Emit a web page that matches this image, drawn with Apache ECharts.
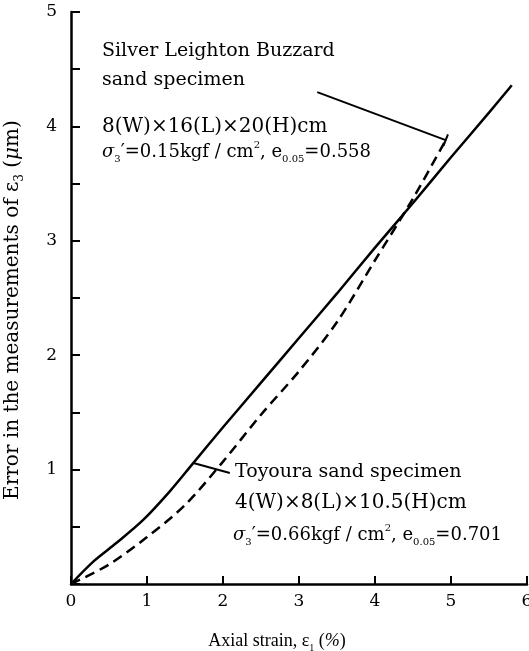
<!DOCTYPE html>
<html>
<head>
<meta charset="utf-8">
<script src="https://cdn.jsdelivr.net/npm/echarts@6/dist/echarts.min.js"></script>
<style>
  html, body { margin: 0; padding: 0; background: #fff; }
  #chart { width: 529px; height: 651px; }
</style>
</head>
<body>
<div id="chart"></div>
<script>
// Axial strain (%) for each curve
const toyouraStrain = [0, 0.3, 0.6, 0.95, 1.3, 1.6, 2.0, 2.5, 3.0, 3.5, 4.0, 4.5, 5.0, 5.5, 5.8];
// Error in the measurements of eps3 (um), Toyoura sand specimen (solid)
const toyouraError = [0, 0.2, 0.36, 0.56, 0.81, 1.05, 1.37, 1.76, 2.15, 2.54, 2.94, 3.33, 3.73, 4.12, 4.36];

const buzzardStrain = [0, 0.5, 1.0, 1.5, 2.0, 2.5, 3.0, 3.5, 4.0, 4.5, 4.93];
// Error in the measurements of eps3 (um), Silver Leighton Buzzard sand specimen (dashed)
const buzzardError = [0, 0.17, 0.41, 0.69, 1.07, 1.48, 1.86, 2.29, 2.83, 3.37, 3.88];

// Axis ticks
const xTicks = [0, 1, 2, 3, 4, 5, 6];
const yLabelled = [1, 2, 3, 4, 5];

// Where the callout leaders start (data space)
const buzzardLeaderStart = [3.24, 4.30];
const toyouraLeaderStart = [2.09, 0.97];
const toyouraLeaderTarget = 1.61; // strain at which the leader meets the solid curve

const FONT = 'DejaVu Serif';
const FONT_NARROW = 'Liberation Serif';

function pairs(xs, ys) { return xs.map((x, i) => [x, ys[i]]); }
function interp(xs, ys, x) {
  for (let i = 1; i < xs.length; i++) {
    if (x <= xs[i]) {
      const t = (x - xs[i - 1]) / (xs[i] - xs[i - 1]);
      return ys[i - 1] + t * (ys[i] - ys[i - 1]);
    }
  }
  return ys[ys.length - 1];
}

const buzzardEnd = [buzzardStrain[buzzardStrain.length - 1], buzzardError[buzzardError.length - 1]];
const toyouraHit = [toyouraLeaderTarget, interp(toyouraStrain, toyouraError, toyouraLeaderTarget)];

const rich = (size, family) => {
  const f = family || FONT;
  return {
    n: { fontFamily: f, fontSize: size, lineHeight: size + 6, verticalAlign: 'middle', color: '#000' },
    i: { fontFamily: f, fontSize: size, fontStyle: 'italic', lineHeight: size + 6, verticalAlign: 'middle', color: '#000' },
    sub: { fontFamily: f, fontSize: Math.round(size * 0.58), lineHeight: Math.round(size * 0.62), verticalAlign: 'bottom', color: '#000' },
    sup: { fontFamily: f, fontSize: Math.round(size * 0.58), lineHeight: Math.round(size * 0.62), verticalAlign: 'top', color: '#000' }
  };
};

function label(x, y, text, size) {
  return {
    type: 'text', left: x, top: y, silent: true,
    style: { text: text, rich: rich(size), font: size + 'px ' + FONT, fill: '#000', verticalAlign: 'middle' }
  };
}

const chart = echarts.init(document.getElementById('chart'), null, { renderer: 'canvas' });

const axisLineStyle = { color: '#000', width: 2.5 };

chart.setOption({
  animation: false,
  backgroundColor: '#fff',
  grid: { left: 71, right: 2, top: 12, bottom: 67, containLabel: false, outerBoundsMode: 'none' },
  xAxis: {
    type: 'value', min: xTicks[0], max: xTicks[xTicks.length - 1], interval: 1,
    axisLine: { lineStyle: axisLineStyle },
    axisTick: { inside: true, length: 8, lineStyle: { color: '#000', width: 2 } },
    splitLine: { show: false },
    axisLabel: { margin: 9, color: '#000', fontFamily: FONT, fontSize: 17,
      formatter: v => xTicks.includes(v) ? String(v) : '' },
    name: '{n|Axial strain, ε}{sub|1}{n| (}{i|%}{n|)}',
    nameLocation: 'middle', nameGap: 45,
    nameTextStyle: { rich: rich(18, FONT_NARROW), padding: [0, 44, 0, 0] }
  },
  yAxis: {
    type: 'value', min: 0, max: 5, interval: 0.5,
    axisLine: { lineStyle: axisLineStyle },
    axisTick: { inside: true, length: 9, lineStyle: { color: '#000', width: 2 } },
    splitLine: { show: false },
    axisLabel: { margin: 14, color: '#000', fontFamily: FONT, fontSize: 17,
      formatter: v => yLabelled.includes(v) ? String(v) : '' },
    name: '{n|Error in the measurements of ε}{sub|3}{n| (}{i|μ}{n|m)}',
    nameLocation: 'middle', nameGap: 45,
    nameTextStyle: { rich: rich(20), padding: [0, 24, 0, 0] }
  },
  series: [
    {
      name: 'Toyoura sand specimen', type: 'line', smooth: 0.3,
      showSymbol: false, silent: true,
      data: pairs(toyouraStrain, toyouraError),
      lineStyle: { color: '#000', width: 2.5, type: 'solid' },
      markLine: {
        silent: true, symbol: ['none', 'none'], label: { show: false },
        lineStyle: { color: '#000', width: 2, type: 'solid' },
        data: [[{ coord: toyouraLeaderStart }, { coord: toyouraHit }]]
      }
    },
    {
      name: 'Silver Leighton Buzzard sand specimen', type: 'line', smooth: 0.3,
      showSymbol: false, silent: true,
      data: pairs(buzzardStrain, buzzardError),
      lineStyle: { color: '#000', width: 2.5, type: [10, 6] },
      markLine: {
        silent: true, symbol: ['none', 'none'], label: { show: false },
        lineStyle: { color: '#000', width: 2, type: 'solid' },
        data: [
          [{ coord: buzzardLeaderStart }, { coord: buzzardEnd }],
          [{ coord: [buzzardEnd[0] + 0.03, buzzardEnd[1] + 0.05] }, { coord: [buzzardEnd[0] - 0.03, buzzardEnd[1] - 0.05] }]
        ]
      }
    }
  ],
  graphic: [
    label(102, 42, '{n|Silver Leighton Buzzard}', 19),
    label(102, 71, '{n|sand specimen}', 19),
    label(102, 117, '{n|8(W)×16(L)×20(H)cm}', 20),
    label(102, 140, '{i|σ}{sub|3}{n|′=0.15kgf / cm}{sup|2}{n|, e}{sub|0.05}{n|=0.558}', 18),
    label(235, 463, '{n|Toyoura sand specimen}', 19),
    label(235, 493, '{n|4(W)×8(L)×10.5(H)cm}', 20),
    label(233, 523, '{i|σ}{sub|3}{n|′=0.66kgf / cm}{sup|2}{n|, e}{sub|0.05}{n|=0.701}', 18)
  ]
});
</script>
</body>
</html>
